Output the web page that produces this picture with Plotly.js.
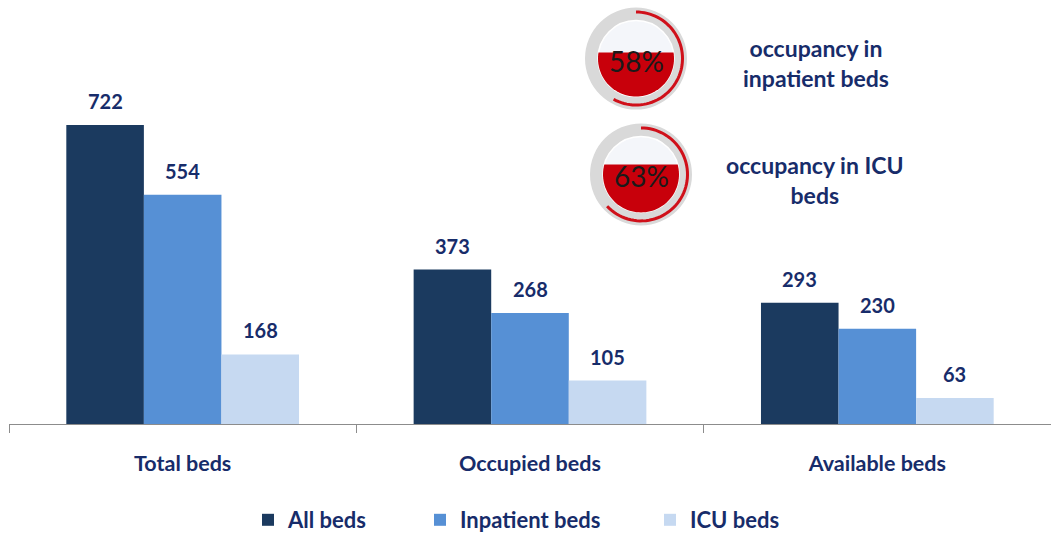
<!DOCTYPE html>
<html><head><meta charset="utf-8">
<script src="https://cdn.plot.ly/plotly-3.0.1.min.js"></script>
<style>html,body{margin:0;padding:0;background:#fff}#chart{width:1051px;height:541px}</style>
</head><body><div id="chart"></div>
<script>
// ---- data ----
const categories = ["Total beds", "Occupied beds", "Available beds"];
const seriesNames = ["All beds", "Inpatient beds", "ICU beds"];
const allBeds = [722, 373, 293];
const inpatientBeds = [554, 268, 230];
const icuBeds = [168, 105, 63];
const gaugeValues = [58, 63];
const gaugeLabels = ["occupancy in<br>inpatient beds", "occupancy in ICU<br>beds"];

// ---- style ----
const colors = ["#1B3A5F", "#5690D5", "#C6D9F1"];
const navy = "#172C6A";
const FONT = "Lato, 'Open Sans', sans-serif";
const W = 1051, H = 541, M = {l: 9, r: 0, t: 10, b: 113};
const plotW = W - M.l - M.r, plotH = H - M.t - M.b;
const bargap = 0.33;
const catW = plotW / categories.length;
const barW = catW * (1 - bargap) / seriesNames.length;
const px2x = px => (px - M.l) / plotW;
const py2y = py => (H - M.b - py) / plotH;

const series = [allBeds, inpatientBeds, icuBeds];
const legendIds = ['legend', 'legend2', 'legend3'];
const legendSquareX = [268, 440, 670];
const traces = series.map((vals, i) => ({
  type: 'bar', name: seriesNames[i], x: categories, y: vals,
  marker: {color: colors[i]}, hoverinfo: 'none', legend: legendIds[i]
}));

const annotations = [];
series.forEach((vals, i) => {
  vals.forEach((v, j) => {
    annotations.push({
      xref: 'x', yref: 'y', x: categories[j], y: v, text: String(v),
      showarrow: false, xshift: (i - 1) * barW, yshift: 24, yanchor: 'middle',
      font: {family: FONT, size: 20, color: navy, weight: 700}
    });
  });
});

// ---- gauges ----
const gaugeCenters = [[636, 59], [641, 176]];
const labelCenters = [[816, 64], [815, 182]];
const shapes = [];
const ROUT = 51, RIN = 38, RARC = 46.5;
gaugeValues.forEach((p, g) => {
  const [cx, cy] = gaugeCenters[g];
  const base = {xref: 'paper', yref: 'paper', xsizemode: 'pixel', ysizemode: 'pixel',
                xanchor: px2x(cx), yanchor: py2y(cy), layer: 'above'};
  shapes.push(Object.assign({}, base, {type: 'circle', x0: -ROUT, x1: ROUT, y0: -ROUT, y1: ROUT,
    fillcolor: '#D9D9D9', line: {width: 0}}));
  shapes.push(Object.assign({}, base, {type: 'circle', x0: -RIN, x1: RIN, y0: -RIN, y1: RIN,
    fillcolor: '#F4F6FA', line: {width: 1.5, color: '#FFFFFF'}}));
  const yc = -RIN + 2 * RIN * p / 100;
  const th = Math.asin(yc / RIN);
  let path = '';
  const N = 60;
  for (let k = 0; k <= N; k++) {
    const t = (Math.PI - th) + ((2 * Math.PI + th) - (Math.PI - th)) * k / N;
    path += (k === 0 ? 'M' : 'L') + (RIN * Math.cos(t)).toFixed(2) + ',' + (RIN * Math.sin(t)).toFixed(2);
  }
  path += 'Z';
  shapes.push(Object.assign({}, base, {type: 'path', path: path, fillcolor: '#C8000B', line: {width: 0}}));
  let arc = '';
  const A = 2 * Math.PI * p / 100;
  for (let k = 0; k <= N; k++) {
    const a = A * k / N;
    arc += (k === 0 ? 'M' : 'L') + (RARC * Math.sin(a)).toFixed(2) + ',' + (RARC * Math.cos(a)).toFixed(2);
  }
  shapes.push(Object.assign({}, base, {type: 'path', path: arc, line: {width: 3, color: '#D0101A'}}));
  annotations.push({xref: 'paper', yref: 'paper', x: px2x(cx), y: py2y(cy + 2), text: p + '%',
    showarrow: false, xanchor: 'center', yanchor: 'middle',
    font: {family: FONT, size: 28, color: '#1A1A1A'}});
  annotations.push({xref: 'paper', yref: 'paper', x: px2x(labelCenters[g][0]), y: py2y(labelCenters[g][1]),
    text: gaugeLabels[g], showarrow: false, xanchor: 'center', yanchor: 'middle', align: 'center',
    font: {family: FONT, size: 23, color: navy, weight: 700}});
});

const legendBase = {
  orientation: 'h', yanchor: 'middle', y: py2y(525), xanchor: 'left',
  font: {family: FONT, size: 22, color: navy, weight: 700}, itemwidth: 30,
  bgcolor: 'rgba(0,0,0,0)'
};
const layout = {
  width: W, height: H, margin: M, paper_bgcolor: '#fff', plot_bgcolor: '#fff',
  barmode: 'group', bargap: bargap, bargroupgap: 0,
  xaxis: {type: 'category', showline: true, linecolor: '#8C8C8C', linewidth: 1,
    ticks: 'outside', tickson: 'boundaries', ticklen: 8, tickcolor: '#8C8C8C',
    ticklabelstandoff: 20, showgrid: false, zeroline: false, fixedrange: true,
    tickfont: {family: FONT, size: 21.5, color: navy, weight: 700}},
  yaxis: {range: [0, 1000], visible: false, fixedrange: true},
  showlegend: true,
  annotations: annotations, shapes: shapes
};
legendIds.forEach((id, i) => {
  layout[id] = Object.assign({}, legendBase, {x: px2x(legendSquareX[i] - 20)});
});
Plotly.newPlot('chart', traces, layout, {displayModeBar: false, staticPlot: true});
</script></body></html>
